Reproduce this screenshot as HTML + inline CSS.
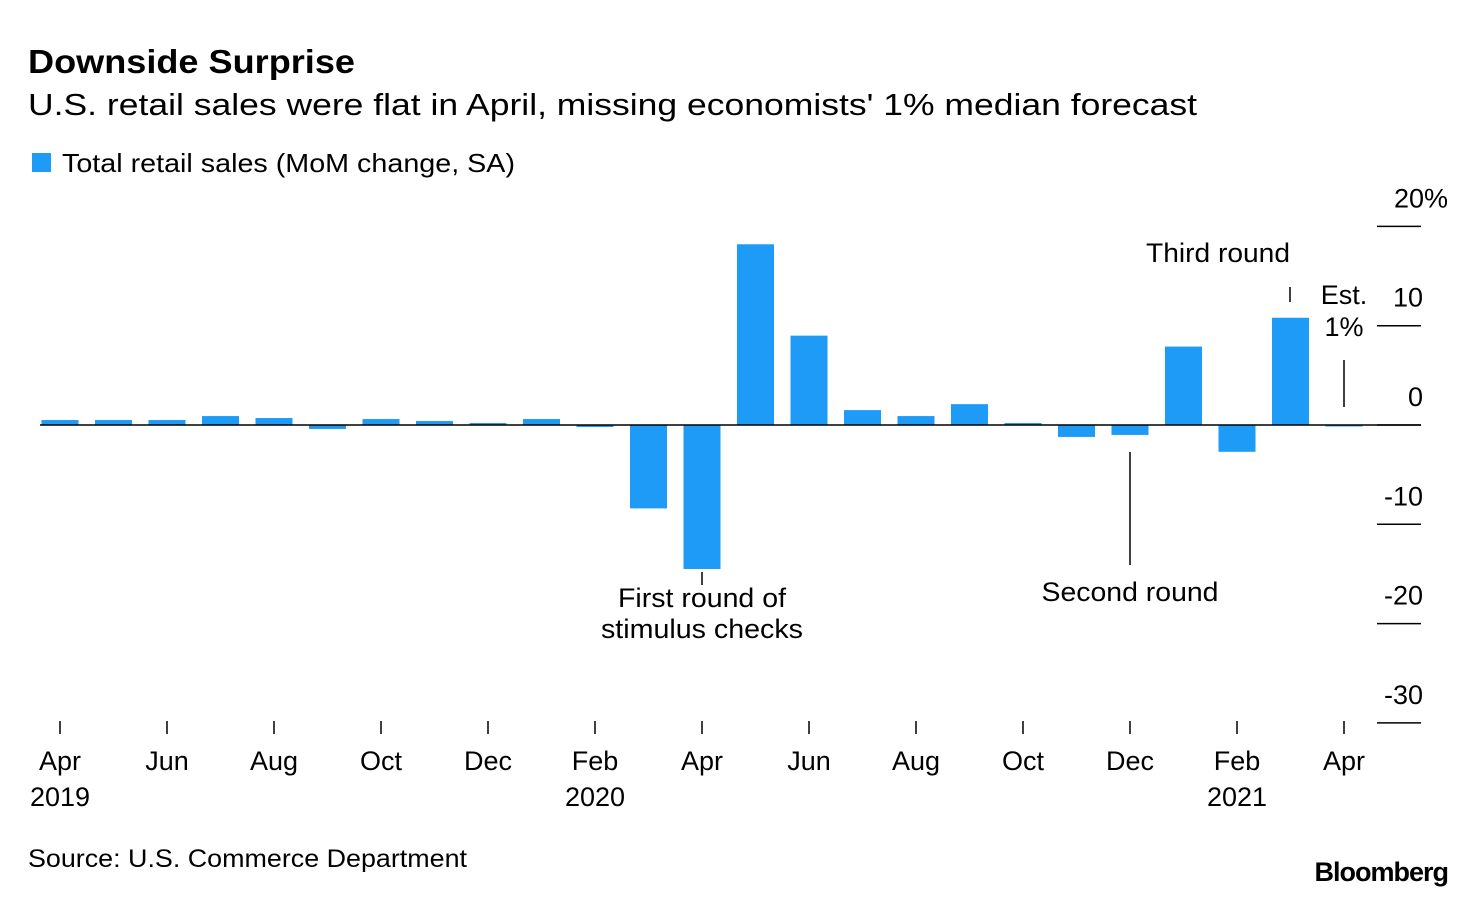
<!DOCTYPE html>
<html><head><meta charset="utf-8"><style>
body{margin:0;background:#fff;width:1476px;height:898px;overflow:hidden;font-family:"Liberation Sans",sans-serif;color:#000}
</style></head><body>
<svg width="1476" height="898" xmlns="http://www.w3.org/2000/svg" font-family="Liberation Sans, sans-serif" id="chart">
<text x="28" y="73" font-size="33" font-weight="bold" textLength="327" lengthAdjust="spacingAndGlyphs">Downside Surprise</text>
<text x="28" y="115" font-size="31" textLength="1169" lengthAdjust="spacingAndGlyphs">U.S. retail sales were flat in April, missing economists' 1% median forecast</text>
<rect x="32" y="153" width="19" height="19" fill="#1e9bf7"/>
<text x="62" y="172" font-size="26" textLength="453" lengthAdjust="spacingAndGlyphs">Total retail sales (MoM change, SA)</text>
<g id="bars"></g>
<g id="yaxis"></g>
<g id="xaxis"></g>
<g font-size="27">
<text x="1218" y="262" text-anchor="middle" textLength="144" lengthAdjust="spacingAndGlyphs">Third round</text>
<line x1="1290" y1="287" x2="1290" y2="302" stroke="#000" stroke-width="1.5"/>
<text x="1344" y="304" text-anchor="middle">Est.</text>
<text x="1344" y="336" text-anchor="middle">1%</text>
<line x1="1344" y1="360" x2="1344" y2="407" stroke="#000" stroke-width="1.5"/>
<line x1="702" y1="572" x2="702" y2="585" stroke="#000" stroke-width="1.5"/>
<text x="702" y="607" text-anchor="middle" textLength="168" lengthAdjust="spacingAndGlyphs">First round of</text>
<text x="702" y="638" text-anchor="middle" textLength="202" lengthAdjust="spacingAndGlyphs">stimulus checks</text>
<line x1="1130" y1="452" x2="1130" y2="565" stroke="#000" stroke-width="1.5"/>
<text x="1130" y="601" text-anchor="middle" textLength="177" lengthAdjust="spacingAndGlyphs">Second round</text>
</g>
<text x="28" y="867" font-size="25" textLength="439" lengthAdjust="spacingAndGlyphs">Source: U.S. Commerce Department</text>
<text x="1448" y="881" font-size="27" font-weight="bold" text-anchor="end" letter-spacing="-1">Bloomberg</text>
</svg>
<script>
const values=[0.5,0.5,0.5,0.9,0.7,-0.4,0.6,0.4,0.2,0.6,-0.2,-8.4,-14.5,18.2,9.0,1.5,0.9,2.1,0.2,-1.2,-1.0,7.9,-2.7,10.8,-0.1];
const yTicks=[20,10,0,-10,-20,-30];
const xLabels=["Apr","Jun","Aug","Oct","Dec","Feb","Apr","Jun","Aug","Oct","Dec","Feb","Apr"];
const yearLabels=["2019","","","","","2020","","","","","","2021",""];
const NS="http://www.w3.org/2000/svg";
const y=v=>425-v*9.93;
const x=i=>60+i*53.5;
const bars=document.getElementById('bars');
values.forEach((v,i)=>{
 const r=document.createElementNS(NS,'rect');
 const top=Math.min(y(v),y(0)),h=Math.max(Math.abs(y(v)-y(0)),1.5);
 r.setAttribute('x',x(i)-18.5);r.setAttribute('y',top);r.setAttribute('width',37);r.setAttribute('height',h);r.setAttribute('fill','#1e9bf7');
 
 
 bars.appendChild(r);
});
const zl=document.createElementNS(NS,'line');
zl.setAttribute('x1',40);zl.setAttribute('x2',1421);zl.setAttribute('y1',y(0));zl.setAttribute('y2',y(0));zl.setAttribute('stroke','#000');zl.setAttribute('stroke-width',1.5);


bars.appendChild(zl);
const ya=document.getElementById('yaxis');
yTicks.forEach(t=>{
 const l=document.createElementNS(NS,'line');
 l.setAttribute('x1',1377);l.setAttribute('x2',1421);l.setAttribute('y1',y(t));l.setAttribute('y2',y(t));l.setAttribute('stroke','#000');l.setAttribute('stroke-width',1.5);
 
 
 ya.appendChild(l);
 const tx=document.createElementNS(NS,'text');
 tx.setAttribute('x',t===20?1448:1423);tx.setAttribute('y',y(t)-19);tx.setAttribute('text-anchor','end');tx.setAttribute('font-size',27);
 tx.textContent=t===20?'20%':String(t);
 
 
 ya.appendChild(tx);
});
const xa=document.getElementById('xaxis');
xLabels.forEach((lab,k)=>{
 const cx=x(k*2);
 const l=document.createElementNS(NS,'line');
 l.setAttribute('x1',cx);l.setAttribute('x2',cx);l.setAttribute('y1',721);l.setAttribute('y2',734);l.setAttribute('stroke','#000');l.setAttribute('stroke-width',1.5);
 
 
 xa.appendChild(l);
 const tx=document.createElementNS(NS,'text');
 tx.setAttribute('x',cx);tx.setAttribute('y',770);tx.setAttribute('text-anchor','middle');tx.setAttribute('font-size',27);tx.textContent=lab;
 
 
 xa.appendChild(tx);
 if(yearLabels[k]){
  const yt=document.createElementNS(NS,'text');
  yt.setAttribute('x',cx);yt.setAttribute('y',806);yt.setAttribute('text-anchor','middle');yt.setAttribute('font-size',27);yt.textContent=yearLabels[k];
  
  
  xa.appendChild(yt);
 }
});
</script>
</body></html>
